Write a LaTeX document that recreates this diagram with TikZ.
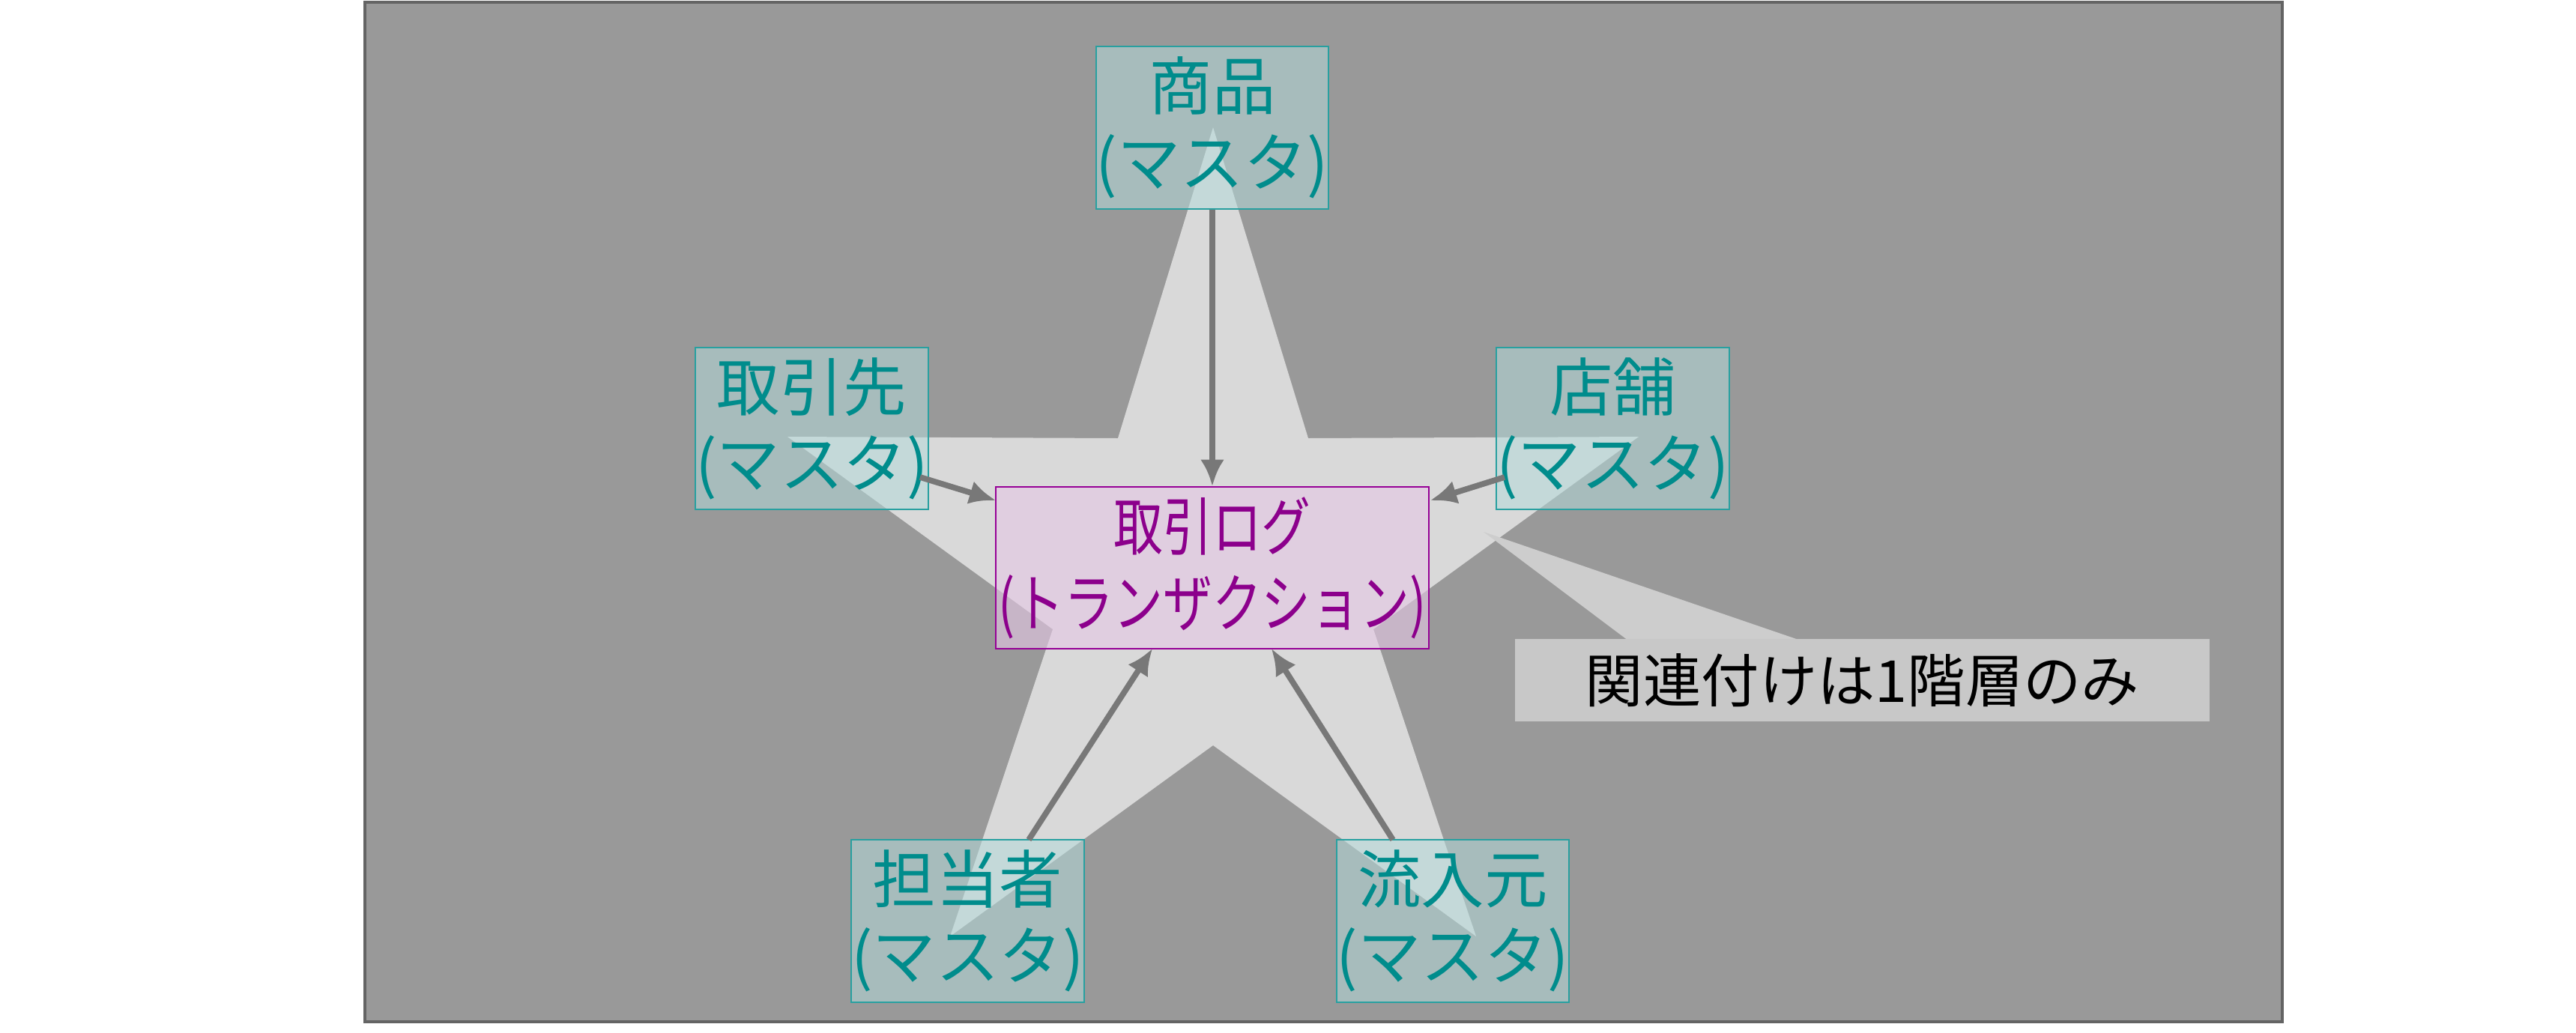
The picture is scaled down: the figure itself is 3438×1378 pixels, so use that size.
\documentclass[tikz,border=0pt]{standalone}
\usepackage{fontspec}
\setmainfont{Noto Sans CJK JP}
\newfontfamily\narrowcjk[FakeStretch=0.78]{Noto Sans CJK JP}
\usetikzlibrary{arrows.meta}
\definecolor{bg}{RGB}{153,153,153}
\definecolor{bgline}{RGB}{100,100,100}
\definecolor{starc}{RGB}{217,217,217}
\definecolor{ptr}{RGB}{205,205,205}
\definecolor{notec}{RGB}{200,200,200}
\definecolor{tealline}{RGB}{40,160,160}
\definecolor{tealfill}{RGB}{179,217,217}
\definecolor{tealtext}{RGB}{0,140,140}
\definecolor{purpline}{RGB}{150,0,150}
\definecolor{purpfill}{RGB}{230,200,230}
\definecolor{purptext}{RGB}{140,0,140}
\definecolor{arrowc}{RGB}{120,120,120}
\begin{document}
\begin{tikzpicture}[x=0.01cm,y=-0.01cm,
  master/.style={draw=tealline, line width=0.6pt, fill=tealfill, fill opacity=0.55, text opacity=1, text=tealtext, font=\fontsize{24}{29}\selectfont, align=center, inner sep=0pt},
  hub/.style={draw=purpline, line width=0.6pt, fill=purpfill, fill opacity=0.6, text opacity=1, text=purptext, font=\narrowcjk\fontsize{24}{29}\selectfont, align=center, inner sep=0pt},
  link/.style={draw=arrowc, line width=2.2pt, -{Latex[length=10pt,width=9pt]}}]
\useasboundingbox (0,0) rectangle (3438,1378);
\fill[white] (0,0) rectangle (3438,1378);
\draw[fill=bg, draw=bgline, line width=1.2pt] (487,3) rectangle (3046,1364);
% star
\fill[starc]
  (1619,170) -- (1492,585) -- (1051,583) -- (1405,840) -- (1268,1250) -- (1619,995)
  -- (1970,1250) -- (1833,840) -- (2187,583) -- (1746,585) -- cycle;
% callout
\fill[ptr] (1980,710) -- (2177,858) -- (2412,858) -- cycle;
\node[fill=notec, minimum width=9.27cm, minimum height=1.1cm, inner sep=0pt, font=\fontsize{22}{26}\selectfont, text=black] (note) at (2485.5,908) {関連付けは1階層のみ};
% boxes
\node[master, minimum width=2.84cm, minimum height=2.17cm] (shohin) at (1618,170.5) {商品\\(マスタ)};
\node[master, minimum width=2.83cm, minimum height=2.16cm] (torihikisaki) at (1083.5,572) {取引先\\(マスタ)};
\node[master, minimum width=2.89cm, minimum height=2.16cm] (tenpo) at (2152.5,572) {店舗\\(マスタ)};
\node[master, minimum width=2.83cm, minimum height=2.17cm] (tanto) at (1291.5,1229.5) {担当者\\(マスタ)};
\node[master, minimum width=2.84cm, minimum height=2.17cm] (ryunyu) at (1939,1229.5) {流入元\\(マスタ)};
\node[hub, minimum width=5.78cm, minimum height=2.16cm] (log) at (1618,758) {取引ログ\\(トランザクション)};
% arrow end points
\coordinate (a1s) at (1228,637); \coordinate (a1e) at (1329,668);
\coordinate (a2s) at (2008,637); \coordinate (a2e) at (1909,668);
\coordinate (a3s) at (1373,1121); \coordinate (a3e) at (1538,866);
\coordinate (a4s) at (1859,1121); \coordinate (a4e) at (1697,866);
% arrows
\draw[link] (shohin.south) -- (log.north);
\draw[link] (a1s) -- (a1e);
\draw[link] (a2s) -- (a2e);
\draw[link] (a3s) -- (a3e);
\draw[link] (a4s) -- (a4e);
\end{tikzpicture}
\end{document}
